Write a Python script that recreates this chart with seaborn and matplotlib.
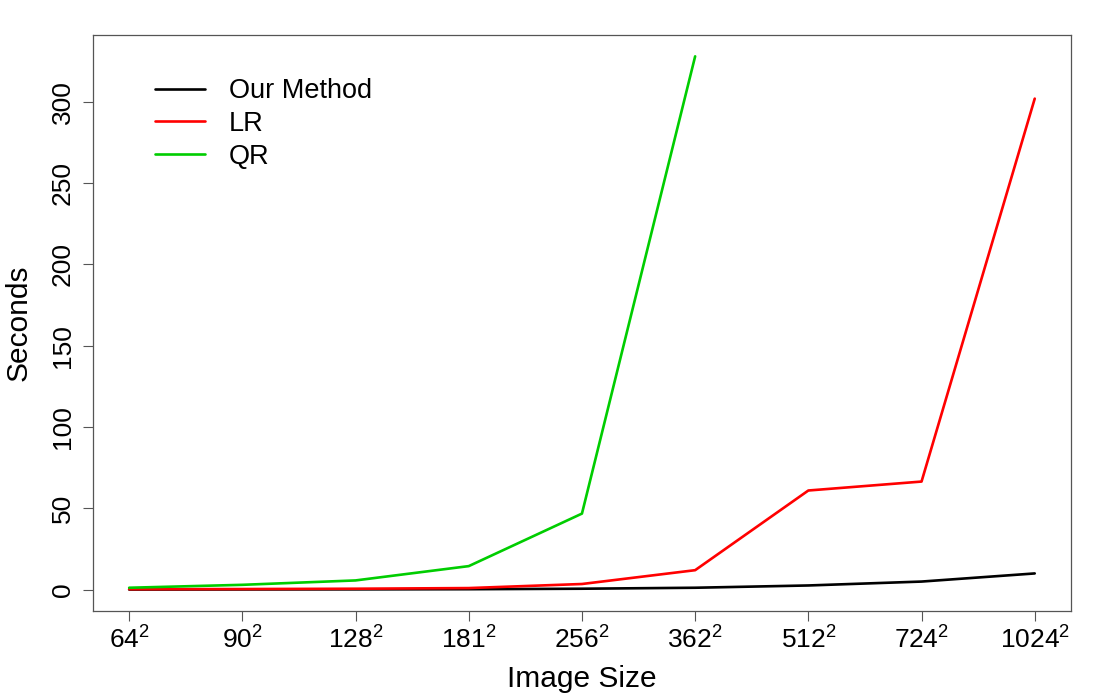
import numpy as np
import pandas as pd
import matplotlib
matplotlib.use("Agg")
import matplotlib.pyplot as plt
import seaborn as sns
from matplotlib.lines import Line2D

sizes = ["64", "90", "128", "181", "256", "362", "512", "724", "1024"]
our_method = [0.1, 0.15, 0.2, 0.3, 0.6, 1.2, 2.6, 5.0, 10.0]
lr = [0.3, 0.4, 0.6, 1.0, 3.5, 12.0, 61.0, 66.5, 302.0]
qr = [1.2, 3.0, 5.7, 14.5, 46.8, 328.0, np.nan, np.nan, np.nan]
series_names = ["Our Method", "LR", "QR"]
series_colors = ["#000000", "#FF0000", "#00CD00"]

rows = []
for name, vals in zip(series_names, [our_method, lr, qr]):
    for i, v in enumerate(vals):
        rows.append({"idx": i, "Seconds": v, "Method": name})
df = pd.DataFrame(rows).dropna()

sns.set_style("ticks")
plt.rcParams["font.family"] = ["Liberation Sans", "DejaVu Sans"]
plt.rcParams["mathtext.fontset"] = "custom"
plt.rcParams["mathtext.rm"] = "Liberation Sans"
plt.rcParams["mathtext.it"] = "Liberation Sans"
plt.rcParams["text.color"] = "black"
plt.rcParams["axes.labelcolor"] = "black"
plt.rcParams["xtick.labelcolor"] = "black"
plt.rcParams["ytick.labelcolor"] = "black"

fig = plt.figure(figsize=(11, 7), dpi=100)
ax = fig.add_axes([0.0845, 0.1271, 0.9736 - 0.0845, 0.95 - 0.1271])

sns.lineplot(data=df, x="idx", y="Seconds", hue="Method", hue_order=series_names,
             palette=series_colors, linewidth=1.9, ax=ax, legend=False, estimator=None)

ax.set_xlim(-0.32, 8.32)
ax.set_ylim(-13.12, 341.12)
ax.set_xticks(range(len(sizes)))
ax.set_xticklabels([r"$\mathregular{%s^2}$" % s for s in sizes], fontsize=19)
ax.set_yticks([0, 50, 100, 150, 200, 250, 300])
ax.set_yticklabels(["0", "50", "100", "150", "200", "250", "300"], fontsize=19,
                   rotation=90, va="center")
ax.tick_params(axis="both", direction="out", length=7, width=0.8, color="#555555",
               pad=4, labelcolor="black")
ax.tick_params(axis="y", pad=6)
for s in ax.spines.values():
    s.set_visible(True)
    s.set_color("#555555")
    s.set_linewidth(0.9)

ax.set_xlabel("Image Size", fontsize=21.5, labelpad=8, color="black")
ax.set_ylabel("Seconds", fontsize=21.5, labelpad=13, color="black")

handles = [Line2D([], [], color=c, linewidth=1.9) for c in series_colors]
ax.legend(handles, series_names, loc="upper left", bbox_to_anchor=(0.052, 0.944),
          frameon=False, fontsize=19.5, handlelength=1.85, handletextpad=0.9,
          labelspacing=0.25, borderaxespad=0, labelcolor="black")

fig.savefig("out.png", dpi=100)
